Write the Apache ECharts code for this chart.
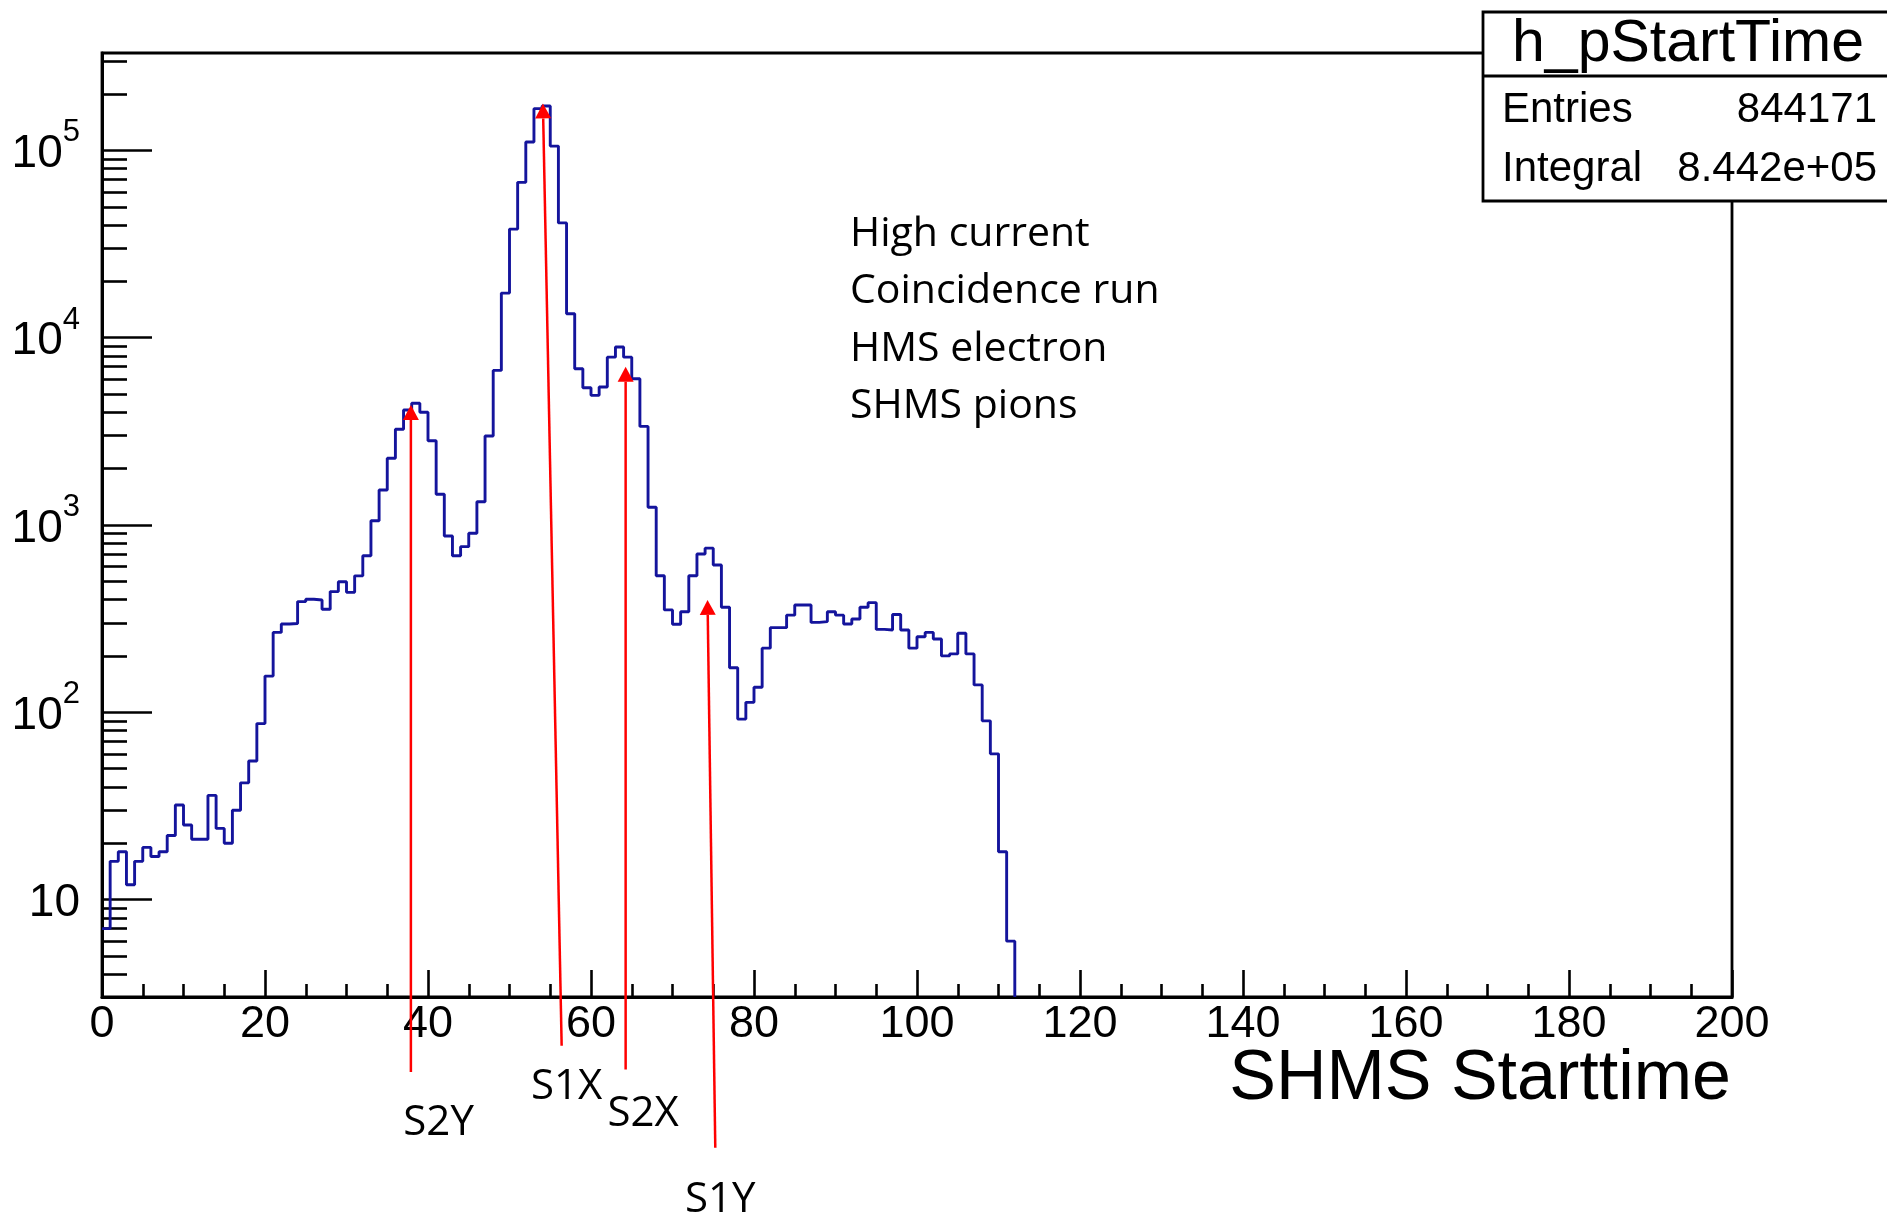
<!DOCTYPE html>
<html><head><meta charset="utf-8">
<script src="https://cdn.jsdelivr.net/npm/echarts@6/dist/echarts.min.js"></script>
<style>html,body{margin:0;padding:0;background:#fff}#c{width:1887px;height:1216px}</style>
</head><body><div id="c"></div>
<script>
// ---- data ----
const binLowEdge = 0;
const binWidth = 1;
const counts = [7,16,18,12,16,19,17,18,22,32,25,21,21,36,24,20,30,42,55,87,156,267,296,298,390,401,398,355,441,498,437,535,685,1054,1537,2270,3243,4110,4466,4000,2818,1459,873,685,766,903,1331,2986,6690,17300,38000,67500,110800,167000,172600,105400,41000,13430,6820,5400,4920,5450,7870,8910,7870,6040,3360,1243,536,352,295,344,536,700,752,611,364,173,92,113,136,220,283,283,330,374,374,302,305,344,330,296,315,364,385,277,275,333,275,220,253,267,246,200,205,264,205,140,90,60,18,6];
const xTicks = [0,20,40,60,80,100,120,140,160,180,200];
const yDecades = [10,100,1000,10000,100000];
const yMinorMultipliers = [2,3,4,5,6,7,8,9];
const Y_MIN = 3.02, Y_MAX = 331000;
const statTitle = 'h_pStartTime';
const statRows = [['Entries','844171'],['Integral','8.442e+05']];
const noteLines = ['High current','Coincidence run','HMS electron','SHMS pions'];
// annotation arrows in data coordinates: tail -> head, label anchor
const annotations = [
  {name:'S2Y', tail:[37.9,1.20], head:[37.9,4375], label:[41.3,0.64]},
  {name:'S1X', tail:[56.4,1.66], head:[54.1,178000], label:[57.0,1.0]},
  {name:'S2X', tail:[64.25,1.24], head:[64.25,7000], label:[66.4,0.72]},
  {name:'S1Y', tail:[75.25,0.473], head:[74.3,398], label:[75.85,0.25]}
];

// ---- build ----
const minorY = [];
[1,10,100,1000,10000,100000].forEach(d => yMinorMultipliers.forEach(m => {
  const v = d*m; if (v > Y_MIN && v < Y_MAX && yDecades.indexOf(v) < 0) minorY.push(v);
}));
const histData = counts.map((v,i) => [binLowEdge + i*binWidth, v]);
histData.push([binLowEdge + counts.length*binWidth, Y_MIN]);

const ROOTFONT = 'Liberation Sans, Arial, sans-serif';
const NOTEFONT = 'Open Sans, Noto Sans, sans-serif';
const black = '#000';

const chart = echarts.init(document.getElementById('c'));
chart.setOption({
  animation:false,
  backgroundColor:'#fff',
  grid:{left:102, right:155, top:53, bottom:219, show:true, borderColor:black, borderWidth:2.8, backgroundColor:'transparent'},
  xAxis:{type:'value', min:xTicks[0], max:xTicks[xTicks.length-1], interval:20,
    axisLine:{show:true, onZero:false, lineStyle:{color:black,width:3}},
    axisTick:{show:true, inside:true, length:27, lineStyle:{color:black,width:2.6}},
    minorTick:{show:true, splitNumber:4, length:13, lineStyle:{color:black,width:2.6}},
    splitLine:{show:false}, minorSplitLine:{show:false},
    axisLabel:{color:black, fontFamily:ROOTFONT, fontSize:45, margin:5}
  },
  yAxis:[
    {type:'log', logBase:10, min:Y_MIN, max:Y_MAX,
      axisLine:{show:true, lineStyle:{color:black,width:3}},
      axisTick:{show:true, inside:true, length:50, customValues:yDecades, lineStyle:{color:black,width:2.6}},
      axisLabel:{show:true, customValues:yDecades, margin:22,
        formatter: v => { const e = Math.round(Math.log10(v)); return e === 1 ? '{b|10}' : '{b|10}{s|' + e + '}'; },
        rich:{ b:{fontFamily:ROOTFONT, fontSize:46, color:black, lineHeight:66, padding:[8,0,0,0], verticalAlign:'middle'},
               s:{fontFamily:ROOTFONT, fontSize:31, color:black, lineHeight:41, verticalAlign:'top'} }
      },
      splitLine:{show:false}
    },
    {type:'log', logBase:10, min:Y_MIN, max:Y_MAX, position:'left',
      axisLine:{show:false},
      axisTick:{show:true, inside:true, length:25, customValues:minorY, lineStyle:{color:black,width:2.6}},
      axisLabel:{show:false}, splitLine:{show:false}
    }
  ],
  series:[{
    type:'line', step:'end', data:histData, showSymbol:false, symbol:'none',
    lineStyle:{color:'#14149c', width:2.9}, clip:true, z:3, silent:true
  }]
});

// ---- overlay: stat box, notes, arrows ----
const g = [];
// stat box
g.push({type:'rect', z:100, shape:{x:1483, y:12, width:430, height:189}, style:{fill:'#fff', stroke:black, lineWidth:2.8}});
g.push({type:'line', z:101, shape:{x1:1483, y1:76, x2:1900, y2:76}, style:{stroke:black, lineWidth:2.8}});
g.push({type:'text', z:102, x:1688, y:45, style:{text:statTitle, fontFamily:ROOTFONT, fontSize:59, fill:black, align:'center', verticalAlign:'middle'}});
statRows.forEach((r,i) => {
  const y = 110 + i*59;
  g.push({type:'text', z:102, x:1502, y:y, style:{text:r[0], fontFamily:ROOTFONT, fontSize:42, fill:black, align:'left', verticalAlign:'middle'}});
  g.push({type:'text', z:102, x:1877, y:y, style:{text:r[1], fontFamily:ROOTFONT, fontSize:42, fill:black, align:'right', verticalAlign:'middle'}});
});
// x axis title
g.push({type:'text', z:50, x:1731, y:1080, style:{text:'SHMS Starttime', fontFamily:ROOTFONT, fontSize:70, fill:black, align:'right', verticalAlign:'middle'}});
// notes
noteLines.forEach((t,i) => {
  g.push({type:'text', z:50, x:850, y:234 + i*57.5, style:{text:t, fontFamily:NOTEFONT, fontSize:41, fill:black, align:'left', verticalAlign:'middle'}});
});
// arrows
const toPx = p => chart.convertToPixel({xAxisIndex:0, yAxisIndex:0}, p);
annotations.forEach(a => {
  const t = toPx(a.tail), h = toPx(a.head), l = toPx(a.label);
  const dx = h[0]-t[0], dy = h[1]-t[1], len = Math.hypot(dx,dy);
  const ux = dx/len, uy = dy/len, L = 15, W = 8;
  const bx = h[0]-ux*L, by = h[1]-uy*L;
  g.push({type:'line', z:60, shape:{x1:t[0], y1:t[1], x2:bx, y2:by}, style:{stroke:'#ff0000', lineWidth:2.5}});
  g.push({type:'polygon', z:61, shape:{points:[[h[0],h[1]],[bx-uy*W, by+ux*W],[bx+uy*W, by-ux*W]]}, style:{fill:'#ff0000'}});
  g.push({type:'text', z:60, x:l[0], y:l[1], style:{text:a.name, fontFamily:NOTEFONT, fontSize:42, fill:black, align:'center', verticalAlign:'middle'}});
});
chart.setOption({graphic:g});
</script></body></html>
